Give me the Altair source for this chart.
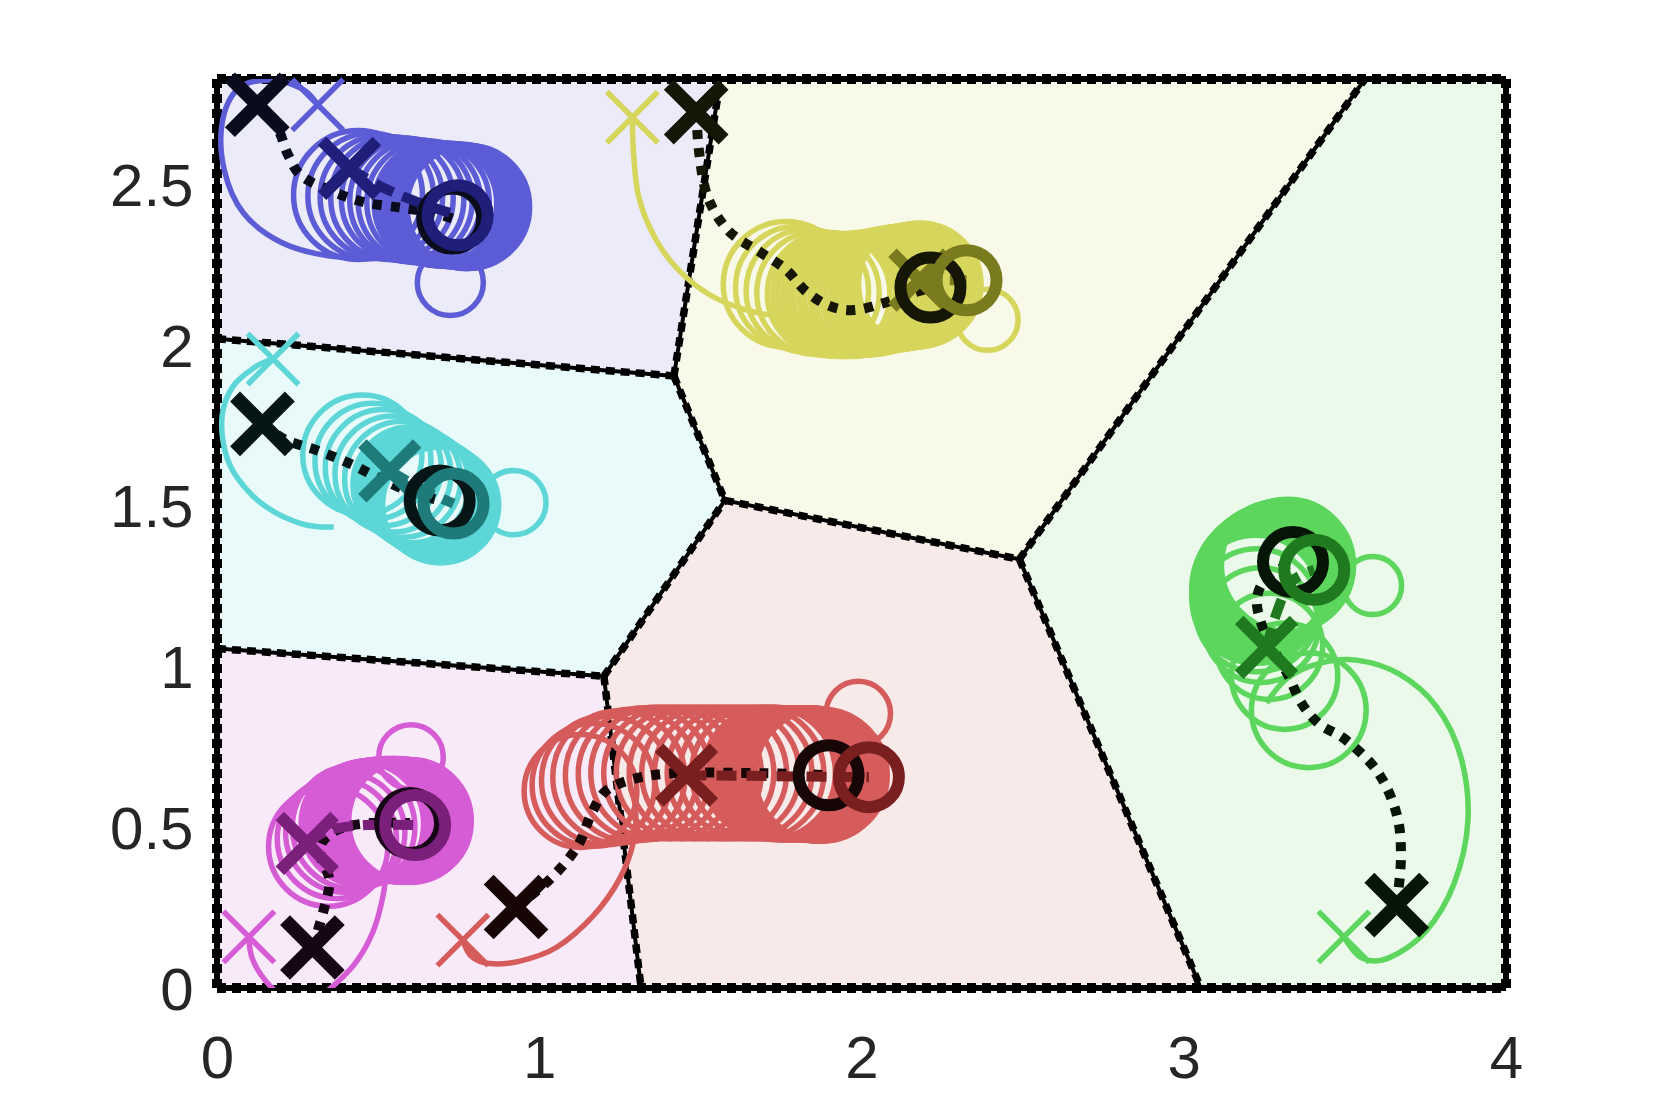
import altair as alt
import pandas as pd

W, H = 1289, 909
XMAX, YMAX = 4.0, 2.828
PX = W / XMAX

AGENTS = ["blue", "cyan", "magenta", "red", "yellow", "green"]
LIGHT = ["#5C5CD6", "#5CD6D6", "#D65CD6", "#D65C5C", "#D6D65C", "#5CD65C"]
DARK = ["#1F1F7A", "#1F7A7A", "#7A1F7A", "#7A1F1F", "#7A7A1F", "#1F7A1F"]
BLACK = ["#0B0B1E", "#061616", "#160616", "#160606", "#161606", "#061606"]
FILL = ["#ECEBF9", "#E9FAFA", "#F9EAF9", "#F9EAEA", "#F9F9EA", "#EBF9EB"]

# Voronoi cells (vertices in data units)
cell_blue = [(0, 2.828), (1.5625, 2.828), (1.418, 1.904), (0, 2.02)]
cell_yellow = [(1.5625, 2.828), (3.5625, 2.828), (2.49, 1.334), (1.576, 1.517), (1.418, 1.904)]
cell_green = [(3.5625, 2.828), (4, 2.828), (4, 0), (3.053, 0), (2.49, 1.334)]
cell_cyan = [(0, 2.02), (1.418, 1.904), (1.576, 1.517), (1.2007, 0.970), (0, 1.056)]
cell_red = [(1.576, 1.517), (2.49, 1.334), (3.053, 0), (1.316, 0), (1.2007, 0.970)]
cell_magenta = [(0, 1.056), (1.2007, 0.970), (1.316, 0), (0, 0)]
CELLS = {"blue": cell_blue, "cyan": cell_cyan, "magenta": cell_magenta,
         "red": cell_red, "yellow": cell_yellow, "green": cell_green}
DOMAIN_BOX = [(0, 0), (4, 0), (4, 2.828), (0, 2.828)]

# trajectories
blue_tail = [(0.3125, 2.748), (0.263, 2.798), (0.164, 2.825), (0.066, 2.798), (0.016, 2.692),
             (0.023, 2.543), (0.082, 2.411), (0.197, 2.321), (0.345, 2.278), (0.477, 2.278)]
cyan_tail = [(0.174, 1.957), (0.115, 1.930), (0.049, 1.871), (0.016, 1.781), (0.026, 1.666),
             (0.066, 1.583), (0.148, 1.500), (0.263, 1.444), (0.362, 1.434)]
magenta_tail = [(0.099, 0.159), (0.109, 0.093), (0.148, 0.026), (0.207, -0.030), (0.280, -0.050),
                (0.345, -0.007), (0.428, 0.076), (0.484, 0.175), (0.516, 0.291), (0.526, 0.391)]
red_tail = [(0.763, 0.149), (0.789, 0.099), (0.845, 0.076), (0.9375, 0.083), (1.053, 0.126),
            (1.168, 0.225), (1.250, 0.341), (1.293, 0.457), (1.299, 0.556), (1.283, 0.623)]
yellow_tail = [(1.289, 2.709), (1.293, 2.593), (1.309, 2.460), (1.359, 2.334), (1.431, 2.235),
               (1.530, 2.156), (1.645, 2.109), (1.760, 2.089), (1.859, 2.096)]
green_tail = [(3.497, 0.159), (3.553, 0.093), (3.635, 0.093), (3.750, 0.175), (3.839, 0.325),
              (3.882, 0.523), (3.859, 0.722), (3.783, 0.877), (3.668, 0.977), (3.536, 1.020),
              (3.421, 1.010), (3.322, 0.964), (3.257, 0.887)]
TAILS = {"blue": blue_tail, "cyan": cyan_tail, "magenta": magenta_tail,
         "red": red_tail, "yellow": yellow_tail, "green": green_tail}

# loops: (x, y, diameter) in data units
blue_loops = [(0.4375, 2.467, 0.40), (0.477, 2.464, 0.39), (0.510, 2.460, 0.38), (0.543, 2.457, 0.38),
              (0.576, 2.454, 0.38), (0.602, 2.450, 0.38), (0.628, 2.447, 0.38), (0.655, 2.444, 0.38),
              (0.678, 2.440, 0.38), (0.690, 2.438, 0.38), (0.701, 2.437, 0.38), (0.711, 2.437, 0.38),
              (0.720, 2.437, 0.38), (0.730, 2.435, 0.38), (0.740, 2.434, 0.38), (0.749, 2.434, 0.38),
              (0.757, 2.434, 0.38), (0.764, 2.432, 0.38), (0.770, 2.430, 0.38), (0.775, 2.430, 0.38),
              (0.780, 2.430, 0.38), (0.724, 2.195, 0.205)]
cyan_loops = [(0.451, 1.659, 0.37), (0.484, 1.639, 0.36), (0.516, 1.619, 0.36), (0.546, 1.599, 0.36),
              (0.576, 1.583, 0.36), (0.602, 1.566, 0.36), (0.614, 1.558, 0.36), (0.625, 1.550, 0.36),
              (0.635, 1.543, 0.36), (0.645, 1.536, 0.36), (0.653, 1.531, 0.36), (0.661, 1.526, 0.36),
              (0.668, 1.521, 0.36), (0.674, 1.517, 0.36), (0.679, 1.513, 0.36), (0.684, 1.510, 0.36),
              (0.689, 1.506, 0.36), (0.694, 1.503, 0.36), (0.921, 1.510, 0.20)]
magenta_loops = [(0.345, 0.440, 0.37), (0.372, 0.464, 0.37), (0.398, 0.483, 0.37), (0.424, 0.500, 0.38),
                 (0.451, 0.510, 0.38), (0.464, 0.514, 0.38), (0.477, 0.517, 0.38), (0.489, 0.519, 0.38),
                 (0.500, 0.520, 0.38), (0.512, 0.522, 0.38), (0.523, 0.523, 0.38), (0.533, 0.523, 0.38),
                 (0.543, 0.523, 0.38), (0.551, 0.523, 0.38), (0.559, 0.523, 0.38), (0.568, 0.521, 0.38),
                 (0.576, 0.520, 0.38), (0.583, 0.520, 0.38), (0.589, 0.520, 0.38), (0.594, 0.520, 0.38),
                 (0.599, 0.520, 0.38), (0.602, 0.719, 0.20)]
red_loops = [(1.128, 0.613, 0.35), (1.168, 0.632, 0.38), (1.207, 0.646, 0.40), (1.247, 0.656, 0.41),
             (1.286, 0.662, 0.41), (1.326, 0.666, 0.41), (1.365, 0.669, 0.41), (1.405, 0.669, 0.41),
             (1.444, 0.669, 0.41), (1.484, 0.669, 0.41), (1.523, 0.669, 0.41), (1.5625, 0.669, 0.41),
             (1.602, 0.669, 0.41), (1.641, 0.669, 0.41), (1.678, 0.669, 0.41), (1.714, 0.669, 0.41),
             (1.731, 0.668, 0.41), (1.747, 0.666, 0.41), (1.762, 0.666, 0.41), (1.776, 0.666, 0.41),
             (1.790, 0.666, 0.41), (1.803, 0.666, 0.41), (1.815, 0.666, 0.41), (1.826, 0.666, 0.41),
             (1.836, 0.666, 0.41), (1.845, 0.666, 0.41), (1.854, 0.664, 0.41), (1.862, 0.662, 0.41),
             (1.869, 0.662, 0.41), (1.875, 0.662, 0.41), (1.990, 0.854, 0.20)]
yellow_loops = [(1.766, 2.189, 0.39), (1.799, 2.179, 0.38), (1.832, 2.169, 0.38), (1.865, 2.162, 0.38),
                (1.898, 2.159, 0.38), (1.915, 2.157, 0.38), (1.931, 2.156, 0.38), (1.948, 2.156, 0.38),
                (1.964, 2.156, 0.38), (1.980, 2.157, 0.38), (1.997, 2.159, 0.38), (2.013, 2.160, 0.38),
                (2.030, 2.162, 0.38), (2.046, 2.165, 0.38), (2.063, 2.169, 0.38), (2.079, 2.172, 0.38),
                (2.095, 2.175, 0.38), (2.109, 2.177, 0.38), (2.122, 2.179, 0.38), (2.134, 2.181, 0.38),
                (2.145, 2.182, 0.38), (2.155, 2.184, 0.38), (2.164, 2.185, 0.38), (2.173, 2.187, 0.38),
                (2.181, 2.189, 0.38), (2.391, 2.079, 0.19)]
green_loops = [(3.388, 0.864, 0.356), (3.313, 0.970, 0.33), (3.266, 1.063, 0.33), (3.240, 1.129, 0.356),
               (3.227, 1.175, 0.38), (3.224, 1.209, 0.396), (3.225, 1.222, 0.40), (3.227, 1.235, 0.40),
               (3.230, 1.245, 0.41), (3.234, 1.255, 0.41), (3.238, 1.264, 0.41), (3.243, 1.272, 0.41),
               (3.250, 1.279, 0.41), (3.257, 1.285, 0.41), (3.263, 1.290, 0.41), (3.270, 1.295, 0.41),
               (3.276, 1.298, 0.41), (3.283, 1.301, 0.41), (3.290, 1.305, 0.41), (3.296, 1.308, 0.41),
               (3.303, 1.310, 0.41), (3.309, 1.311, 0.41), (3.316, 1.313, 0.41), (3.322, 1.315, 0.41),
               (3.586, 1.252, 0.18)]
LOOPS = {"blue": blue_loops, "cyan": cyan_loops, "magenta": magenta_loops,
         "red": red_loops, "yellow": yellow_loops, "green": green_loops}

# reference (black dotted) paths
blue_ref = [(0.125, 2.748), (0.1875, 2.675), (0.220, 2.593), (0.263, 2.526), (0.362, 2.477),
            (0.4605, 2.444), (0.576, 2.427), (0.674, 2.411), (0.730, 2.394)]
cyan_ref = [(0.141, 1.755), (0.214, 1.705), (0.3125, 1.672), (0.411, 1.632), (0.510, 1.583),
            (0.609, 1.540), (0.691, 1.517)]
magenta_ref = [(0.296, 0.126), (0.329, 0.235), (0.349, 0.334), (0.322, 0.407), (0.329, 0.457),
               (0.385, 0.497), (0.477, 0.513), (0.599, 0.513)]
red_ref = [(0.928, 0.252), (1.036, 0.341), (1.118, 0.440), (1.161, 0.540), (1.207, 0.613),
           (1.299, 0.652), (1.431, 0.669), (1.628, 0.669), (1.793, 0.666), (1.898, 0.662)]
yellow_ref = [(1.487, 2.725), (1.497, 2.593), (1.523, 2.460), (1.589, 2.354), (1.688, 2.288),
              (1.766, 2.235), (1.826, 2.169), (1.898, 2.123), (1.974, 2.109), (2.063, 2.129),
              (2.148, 2.159), (2.214, 2.179)]
green_ref = [(3.661, 0.258), (3.674, 0.407), (3.661, 0.540), (3.602, 0.672), (3.503, 0.772),
             (3.421, 0.821), (3.365, 0.887), (3.322, 0.977), (3.273, 1.063), (3.240, 1.136),
             (3.227, 1.212), (3.257, 1.275), (3.339, 1.325)]
REFS = {"blue": blue_ref, "cyan": cyan_ref, "magenta": magenta_ref,
        "red": red_ref, "yellow": yellow_ref, "green": green_ref}

# dark dashed paths
blue_mid = [(0.411, 2.550), (0.510, 2.493), (0.625, 2.444), (0.747, 2.404)]
cyan_mid = [(0.536, 1.609), (0.641, 1.550), (0.734, 1.507)]
magenta_mid = [(0.280, 0.450), (0.345, 0.490), (0.461, 0.507), (0.615, 0.507)]
red_mid = [(1.457, 0.662), (2.023, 0.656)]
yellow_mid = [(2.181, 2.202), (2.326, 2.202)]
green_mid = [(3.257, 1.060), (3.289, 1.169), (3.332, 1.262), (3.405, 1.301)]
MIDS = {"blue": blue_mid, "cyan": cyan_mid, "magenta": magenta_mid,
        "red": red_mid, "yellow": yellow_mid, "green": green_mid}

# markers (order = AGENTS)
light_x = [(0.3125, 2.748), (0.174, 1.957), (0.099, 0.159), (0.763, 0.149), (1.289, 2.709), (3.497, 0.159)]
black_x = [(0.125, 2.748), (0.141, 1.755), (0.296, 0.126), (0.928, 0.252), (1.487, 2.725), (3.661, 0.258)]
dark_x = [(0.411, 2.550), (0.536, 1.609), (0.280, 0.450), (1.457, 0.662), (2.181, 2.202), (3.257, 1.060)]
black_o = [(0.730, 2.394), (0.691, 1.517), (0.599, 0.513), (1.898, 0.662), (2.214, 2.179), (3.339, 1.325)]
dark_o = [(0.747, 2.404), (0.734, 1.507), (0.615, 0.507), (2.023, 0.656), (2.326, 2.202), (3.405, 1.301)]

XTICKS = [0, 1, 2, 3, 4]
YTICKS = [0, 0.5, 1, 1.5, 2, 2.5]


def envelope(poly):
    xs = sorted(set(p[0] for p in poly))
    rows = []
    n = len(poly)
    for x in xs:
        ys = []
        for i in range(n):
            (x1, y1), (x2, y2) = poly[i], poly[(i + 1) % n]
            if min(x1, x2) - 1e-9 <= x <= max(x1, x2) + 1e-9:
                if abs(x2 - x1) < 1e-12:
                    ys += [y1, y2]
                else:
                    ys.append(y1 + (y2 - y1) * (x - x1) / (x2 - x1))
        rows.append((x, min(ys), max(ys)))
    return rows


region_rows = []
for a in AGENTS:
    for x, lo, hi in envelope(CELLS[a]):
        region_rows.append({"cell": a, "x": x, "y": lo, "y2": hi})
regions = pd.DataFrame(region_rows)


def poly_edges(polys):
    seen = {}
    for poly in polys:
        for i in range(len(poly)):
            p, q = poly[i], poly[(i + 1) % len(poly)]
            key = tuple(sorted([p, q]))
            seen[key] = True
    return pd.DataFrame([{"x": k[0][0], "y": k[0][1], "x2": k[1][0], "y2": k[1][1]} for k in seen])


border = poly_edges([DOMAIN_BOX])
all_edges = poly_edges(CELLS.values())
inner = all_edges[[
    not ((r.x == r.x2 and r.x in (0, 4)) or (r.y == r.y2 and r.y in (0, 2.828)))
    for r in all_edges.itertuples()]]


def path_df(d):
    rows = []
    for a in AGENTS:
        for i, (x, y) in enumerate(d[a]):
            rows.append({"agent": a, "i": i, "x": x, "y": y})
    return pd.DataFrame(rows)


tails = path_df(TAILS)
refs = path_df(REFS)
mids = path_df(MIDS)
loops = pd.DataFrame([{"agent": a, "i": i, "x": x, "y": y, "d": dd}
                      for a in AGENTS for i, (x, y, dd) in enumerate(LOOPS[a])])


def marker_df(lst):
    return pd.DataFrame([{"agent": a, "x": p[0], "y": p[1]} for a, p in zip(AGENTS, lst)])


AXF = dict(title=None, domain=False, ticks=False, grid=False, format="~g",
           labelFontSize=60, labelFont="Liberation Sans", labelColor="#262626",
           labelFlush=False, labelOverlap=False)
XS = alt.Scale(domain=[0, XMAX], nice=False, zero=False)
YS = alt.Scale(domain=[0, YMAX], nice=False, zero=False)


def X(f="x"):
    return alt.X(f"{f}:Q", scale=XS, axis=alt.Axis(values=XTICKS, labelPadding=42, **AXF))


def Y(f="y"):
    return alt.Y(f"{f}:Q", scale=YS, axis=alt.Axis(values=YTICKS, labelPadding=24, labelOffset=3, **AXF))


def C(rng):
    return alt.Color("agent:N", scale=alt.Scale(domain=AGENTS, range=rng), legend=None)


XPATH = "M-1,-1L1,1M-1,1L1,-1"

layers = []
layers.append(alt.Chart(regions).mark_area(opacity=1).encode(
    x=X(), y=Y(), y2="y2:Q",
    color=alt.Color("cell:N", scale=alt.Scale(domain=AGENTS, range=FILL), legend=None)))
layers.append(alt.Chart(inner).mark_rule(color="black", strokeWidth=4).encode(
    x=X(), y=Y(), x2="x2:Q", y2="y2:Q"))
layers.append(alt.Chart(inner).mark_rule(color="black", strokeWidth=7.5, strokeDash=[9, 6]).encode(
    x=X(), y=Y(), x2="x2:Q", y2="y2:Q"))
layers.append(alt.Chart(border).mark_rule(color="black", strokeWidth=6).encode(
    x=X(), y=Y(), x2="x2:Q", y2="y2:Q"))
layers.append(alt.Chart(border).mark_rule(color="black", strokeWidth=10, strokeDash=[9, 6]).encode(
    x=X(), y=Y(), x2="x2:Q", y2="y2:Q"))
layers.append(alt.Chart(tails).mark_line(strokeWidth=5.5, clip=True, interpolate="cardinal").encode(
    x=X(), y=Y(), color=C(LIGHT), detail="agent:N", order="i:Q"))
layers.append(alt.Chart(loops).mark_point(shape="circle", filled=False, strokeWidth=5.5, opacity=1, clip=True).encode(
    x=X(), y=Y(), color=C(LIGHT),
    size=alt.Size("d:Q", scale=alt.Scale(type="pow", exponent=2, domain=[0, 1], range=[0, PX * PX]), legend=None),
    order="i:Q"))
layers.append(alt.Chart(marker_df(light_x)).mark_point(shape=XPATH, filled=False, size=2600, strokeWidth=5.5, opacity=1).encode(
    x=X(), y=Y(), color=C(LIGHT)))
layers.append(alt.Chart(refs).mark_line(strokeWidth=10, strokeDash=[9, 9], interpolate="cardinal").encode(
    x=X(), y=Y(), color=C(BLACK), detail="agent:N", order="i:Q"))
layers.append(alt.Chart(mids).mark_line(strokeWidth=10, strokeDash=[20, 10], interpolate="cardinal").encode(
    x=X(), y=Y(), color=C(DARK), detail="agent:N", order="i:Q"))
layers.append(alt.Chart(marker_df(black_x)).mark_point(shape=XPATH, filled=False, size=3000, strokeWidth=14, opacity=1).encode(
    x=X(), y=Y(), color=C(BLACK)))
layers.append(alt.Chart(marker_df(dark_x)).mark_point(shape=XPATH, filled=False, size=3000, strokeWidth=12, opacity=1).encode(
    x=X(), y=Y(), color=C(DARK)))
layers.append(alt.Chart(marker_df(black_o)).mark_point(shape="circle", filled=False, size=3600, strokeWidth=12, opacity=1).encode(
    x=X(), y=Y(), color=C(BLACK)))
layers.append(alt.Chart(marker_df(dark_o)).mark_point(shape="circle", filled=False, size=3600, strokeWidth=12, opacity=1).encode(
    x=X(), y=Y(), color=C(DARK)))

chart = alt.layer(*layers).resolve_scale(color="independent", size="independent").properties(
    width=W, height=H,
    padding={"left": 209, "top": 71, "right": 100, "bottom": 105},
    autosize=alt.AutoSizeParams(type="none"),
    background="white",
).configure_view(stroke=None)

chart.save("out.html", embed_options={"renderer": "svg", "actions": False})
